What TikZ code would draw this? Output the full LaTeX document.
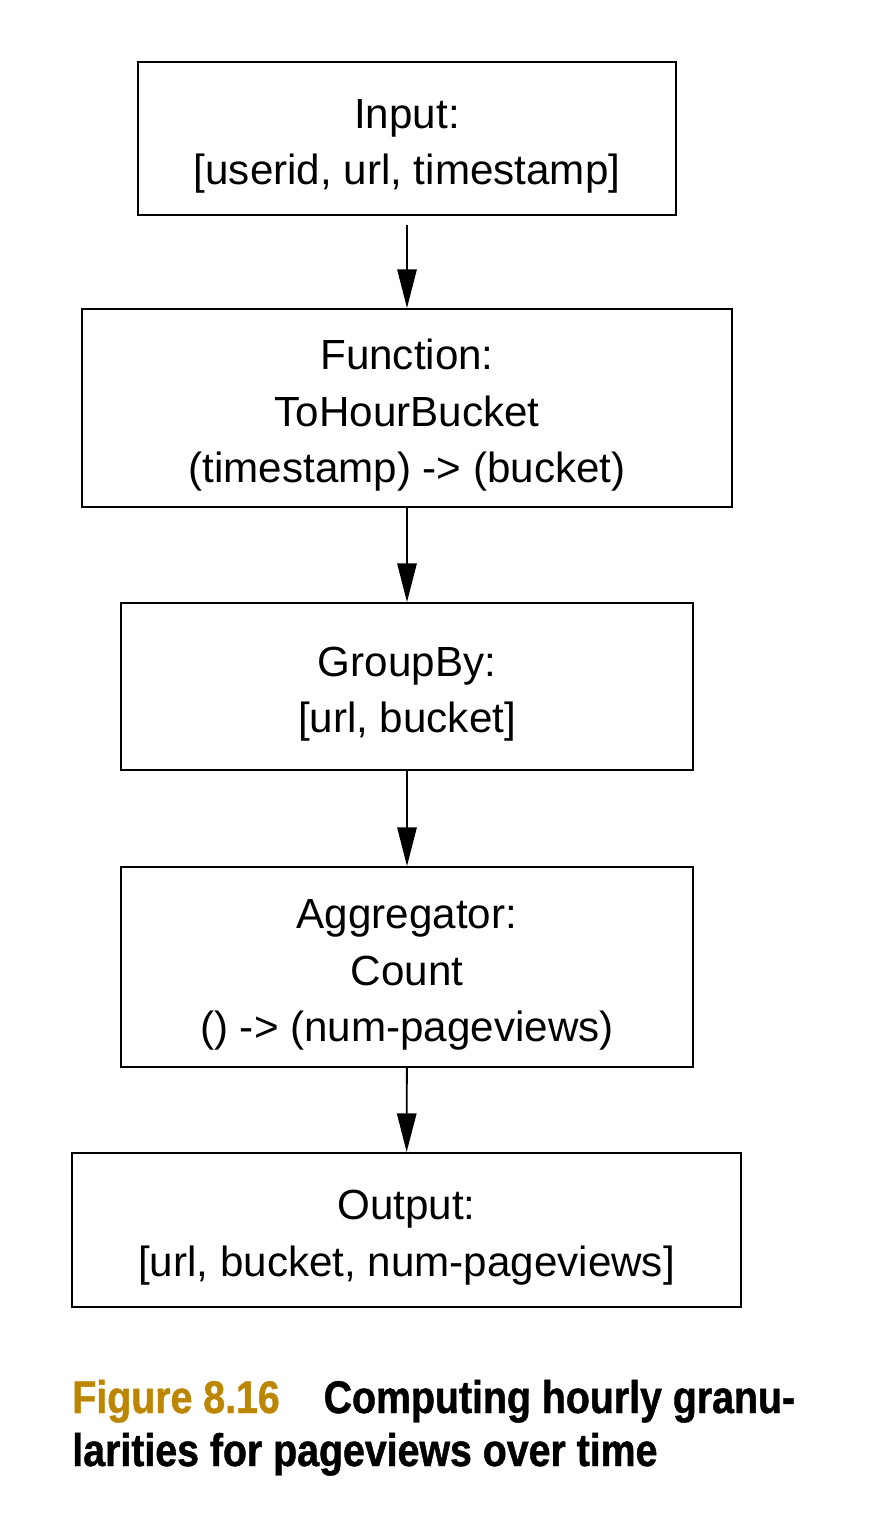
\documentclass[tikz,border=0pt]{standalone}
\usepackage{fontspec}
\setmainfont{Liberation Sans}
\newfontfamily\capfont[FakeStretch=0.86,FakeBold=1]{Liberation Sans Bold}
\usepackage{xcolor}
\usetikzlibrary{arrows.meta}
\definecolor{figgold}{RGB}{188,134,0}
\newcommand{\topgap}{\rule{0pt}{25.5pt}}

\begin{document}
\begin{tikzpicture}[x=0.02cm,y=-0.02cm,
  stage/.style={draw,line width=1.1pt,align=center,inner sep=0pt,
    font=\fontsize{24}{32}\selectfont},
  flow/.style={line width=1.1pt,-{Triangle[length=22pt,width=11pt]}},
  capline/.style={anchor=base west,inner sep=0pt,
    font=\capfont\fontsize{26}{30}\selectfont}]
\useasboundingbox (0,0) rectangle (888,1524);
% Stages of the pipeline, top to bottom
\node[stage,minimum width=538*0.02cm,minimum height=153*0.02cm] (input) at (407,138.5)
  {\topgap Input:\\ {[userid, url, timestamp]}};
\node[stage,minimum width=650*0.02cm,minimum height=198*0.02cm] (func) at (407,408)
  {\topgap Function:\\ ToHourBucket\\ (timestamp) -> (bucket)};
\node[stage,minimum width=572*0.02cm,minimum height=167*0.02cm] (group) at (407,686.5)
  {\topgap GroupBy:\\ {[url, bucket]}};
\node[stage,minimum width=572*0.02cm,minimum height=200*0.02cm] (agg) at (407,967)
  {\topgap Aggregator:\\ Count\\ () -> (num-pageviews)};
\node[stage,minimum width=669*0.02cm,minimum height=154*0.02cm] (output) at (406.5,1230)
  {\topgap Output:\\ {[url, bucket, num-pageviews]}};
% Connectors
\draw[flow,shorten <=9*0.02cm] (input) -- (func);
\draw[flow] (func) -- (group);
\draw[flow] (group) -- (agg);
\draw[flow] (agg) -- (output);
% Caption
\node[capline] (cap1) at (72,1413)
  {\textcolor{figgold}{Figure 8.16}\hspace{25pt}Computing hourly granu-};
\node[capline] (cap2) at (72,1466) {larities for pageviews over time};
\end{tikzpicture}
\end{document}
